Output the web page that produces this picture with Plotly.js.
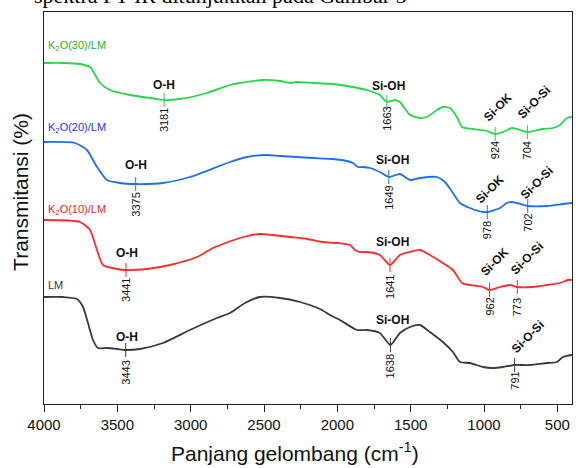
<!DOCTYPE html>
<html>
<head>
<meta charset="utf-8">
<script src="https://cdn.plot.ly/plotly-3.0.1.min.js"></script>
<style>html,body{margin:0;padding:0;background:#fff;}#chart{width:576px;height:468px;}</style>
</head>
<body>
<div id="chart"></div>
<script>
// ---- DATA (wavenumber in cm^-1, offset transmittance in arbitrary units) ----
const wnK30 = [4000,3870,3755,3686,3618,3550,3414,3230,3181,3073,2889,2732,2664,2507,2391,2323,2275,2166,2030,1894,1798,1710,1663,1607,1573,1505,1437,1389,1321,1280,1232,1185,1150,1076,980,924,871,810,755,704,598,530,482,434,400];
const tK30  = [341,341,340,337,321,314,309,305,304,305,311,319,321,324,323,321,322,321,320,317,314,309,302,304,302,289,286,287,294,297,296,287,277,275,273,270,272,276,274,272,275,276,279,286,287];

const wnK20 = [4000,3789,3707,3639,3571,3482,3375,3189,3005,2821,2732,2616,2480,2391,2275,2166,2030,1934,1893,1859,1825,1778,1710,1649,1573,1505,1437,1321,1266,1212,1164,1096,1007,978,891,844,810,776,702,571,462,400];
const tK20  = [262,261,254,237,224,221,220,221,227,237,242,247,249,248,247,246,245,243,241,237,237,236,232,227,230,224,226,227,222,211,201,196,192,192,196,201,202,201,198,198,200,201];

const wnK10 = [4000,3755,3686,3639,3598,3502,3441,3298,3141,2957,2848,2664,2528,2439,2323,2207,2098,2003,1914,1880,1846,1798,1710,1641,1573,1505,1437,1369,1280,1212,1150,1096,1007,962,891,823,773,667,571,482,428,400];
const tK10  = [184,182,174,154,139,135,134,135,139,147,156,166,170,169,167,165,162,161,159,154,152,152,149,139,149,152,154,149,141,134,121,119,117,114,117,119,117,117,119,121,124,124];

const wnLM = [4000,3870,3775,3734,3700,3666,3632,3571,3502,3443,3346,3189,3005,2821,2732,2630,2528,2391,2255,2118,2050,1982,1866,1798,1710,1638,1573,1505,1437,1369,1280,1212,1164,1096,1007,939,871,791,687,571,503,462,400];
const tLM  = [107,107,105,97,81,64,56,56,55,54,55,61,74,86,91,101,107,106,102,95,89,84,74,74,71,59,71,77,79,72,62,52,42,41,37,36,37,39,39,41,42,47,49];

const seriesNames = ['K<sub>2</sub>O(30)/LM','K<sub>2</sub>O(20)/LM','K<sub>2</sub>O(10)/LM','LM'];

const peaksK30 = [3181,1663,924,704];
const bondsK30 = ['O-H','Si-OH','Si-OK','Si-O-Si'];
const peaksK20 = [3375,1649,978,702];
const bondsK20 = ['O-H','Si-OH','Si-OK','Si-O-Si'];
const peaksK10 = [3441,1641,962,773];
const bondsK10 = ['O-H','Si-OH','Si-OK','Si-O-Si'];
const peaksLM  = [3443,1638,791];
const bondsLM  = ['O-H','Si-OH','Si-O-Si'];

const xTickVals = [4000,3500,3000,2500,2000,1500,1000,500];
const xTickText = ['4000','3500','3000','2500','2000','1500','1000','500'];

const xTitle = 'Panjang gelombang (cm<sup>-1</sup>)';
const yTitle = 'Transmitansi (%)';
const pageText = 'spektra FT-IR ditunjukkan pada Gambar 5';

// ---- STYLE ----
const lineColors  = ['#27d64a','#1f6ff2','#ff2a2a','#3a3a3a'];
const labelColors = ['#1fb41f','#1f36e6','#ee2228','#333333'];
const labelPaperY = [0.913, 0.704, 0.495, 0.304];
// per-peak label offsets in pixels: [bond dx, bond dy, number dy]
const offsets = [
  [[0,15,-20],[2,16,-17],[3,27,-16],[7,30,-18]],
  [[0,19,-21],[4,17,-21],[3,23,-18],[9,23,-17]],
  [[1,17,-20],[3,23,-22],[5,28,-17],[10,29,-20]],
  [[1,13,-23],[2,25,-21],[13,28,-16]]
];

const allWn = [wnK30, wnK20, wnK10, wnLM];
const allT  = [tK30, tK20, tK10, tLM];
const allPeaks = [peaksK30, peaksK20, peaksK10, peaksLM];
const allBonds = [bondsK30, bondsK20, bondsK10, bondsLM];

const font = 'Liberation Sans, Arial, sans-serif';
const traces = [];
const annotations = [];
const shapes = [];

for (let s = 0; s < 4; s++) {
  traces.push({
    x: allWn[s], y: allT[s], type: 'scatter', mode: 'lines',
    line: {color: lineColors[s], width: 1.8, shape: 'spline', smoothing: 0.6},
    hoverinfo: 'skip', showlegend: false
  });
  annotations.push({
    xref: 'paper', yref: 'paper', x: 0, y: labelPaperY[s], xanchor: 'left', yanchor: 'middle',
    xshift: 2, text: seriesNames[s], showarrow: false,
    font: {family: font, size: 11, color: labelColors[s]}
  });
  for (let p = 0; p < allPeaks[s].length; p++) {
    const wn = allPeaks[s][p];
    const idx = allWn[s].indexOf(wn);
    const yv = allT[s][idx];
    const off = offsets[s][p];
    const bond = allBonds[s][p];
    const rotated = (bond === 'Si-OK' || bond === 'Si-O-Si');
    shapes.push({type: 'line', xref: 'x', yref: 'y', x0: wn, x1: wn, y0: yv - 7, y1: yv + 7,
      line: {color: lineColors[s], width: 1}});
    annotations.push({
      xref: 'x', yref: 'y', x: wn, y: yv, xshift: off[0], yshift: off[1],
      text: '<b>' + bond + '</b>', showarrow: false, textangle: rotated ? -45 : 0,
      font: {family: font, size: 12, color: '#111'}
    });
    annotations.push({
      xref: 'x', yref: 'y', x: wn, y: yv, yshift: off[2],
      text: String(wn), showarrow: false, textangle: -90,
      font: {family: font, size: 11, color: '#111'}
    });
  }
}

// axis titles
annotations.push({
  xref: 'paper', yref: 'paper', x: -0.0205, y: -0.1224, xanchor: 'left', yanchor: 'middle',
  xshift: 0, text: xTitle, showarrow: false,
  font: {family: font, size: 21, color: '#111'}
});
annotations.push({
  xref: 'paper', yref: 'paper', x: -0.0436, y: 0.541, xanchor: 'center', yanchor: 'middle',
  text: yTitle, showarrow: false, textangle: -90,
  font: {family: font, size: 21, color: '#111'}
});
// fix x-title position: centre it at pixel x 295
annotations[annotations.length - 2].x = (295 - 44) / 528;
annotations[annotations.length - 2].xanchor = 'center';

// cropped page text above the figure
annotations.push({
  xref: 'paper', yref: 'paper', x: -0.022, y: 1, xanchor: 'left', yanchor: 'bottom',
  yshift: 2, text: pageText, showarrow: false,
  font: {family: 'Liberation Serif, Times New Roman, serif', size: 22, color: '#000'}
});

const layout = {
  width: 576, height: 468,
  margin: {l: 44, r: 4, t: 12, b: 64},
  paper_bgcolor: '#fff', plot_bgcolor: '#fff',
  showlegend: false,
  xaxis: {
    range: [4000, 400], tickvals: xTickVals, ticktext: xTickText,
    ticks: 'outside', ticklen: 7, tickwidth: 1, tickcolor: '#222',
    minor: {dtick: 250, tick0: 4000, ticks: 'outside', ticklen: 4, tickcolor: '#222', showgrid: false},
    showline: true, linecolor: '#222', linewidth: 1, mirror: true,
    showgrid: false, zeroline: false,
    tickfont: {family: font, size: 15, color: '#111'}
  },
  yaxis: {
    range: [0, 392], showticklabels: false, ticks: '',
    showline: true, linecolor: '#222', linewidth: 1, mirror: true,
    showgrid: false, zeroline: false
  },
  annotations: annotations,
  shapes: shapes
};

Plotly.newPlot('chart', traces, layout, {staticPlot: true, displayModeBar: false});
</script>
</body>
</html>
